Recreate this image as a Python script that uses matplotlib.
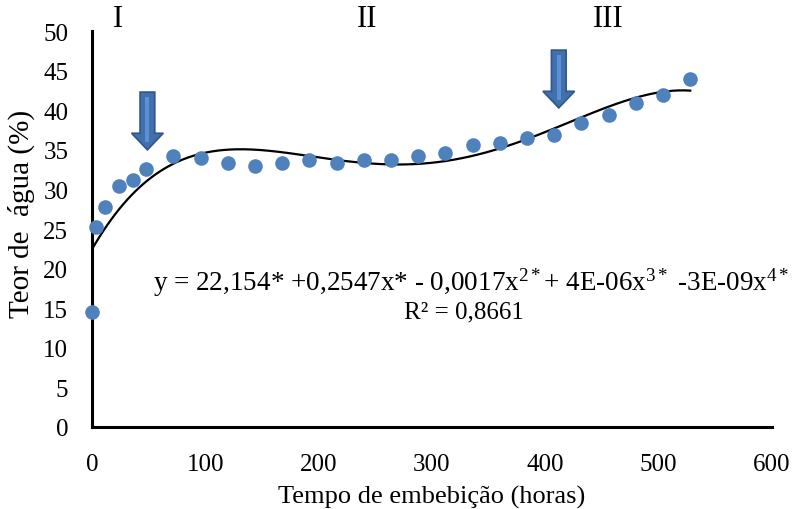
import numpy as np
import matplotlib
matplotlib.use('Agg')
import matplotlib.pyplot as plt
from matplotlib.patches import FancyArrow, Rectangle

plt.rcParams['font.family'] = ['Liberation Serif', 'DejaVu Serif']
plt.rcParams['mathtext.fontset'] = 'custom'
plt.rcParams['mathtext.rm'] = 'Liberation Serif'
plt.rcParams['mathtext.it'] = 'Liberation Serif:italic'

# tempo de embebição (horas) e teor de água (%)
horas = [0, 4, 12, 24, 36, 48, 72, 96, 120, 144, 168, 192, 216, 240, 264,
         288, 312, 336, 360, 384, 408, 432, 456, 480, 504, 528]
teor = [14.5, 25.3, 27.8, 30.4, 31.2, 32.6, 34.2, 34.0, 33.3, 33.0, 33.3, 33.7,
        33.3, 33.7, 33.7, 34.2, 34.6, 35.6, 35.9, 36.5, 36.9, 38.4, 39.4, 40.9,
        41.9, 43.9]
fases = ['I', 'II', 'III']
fases_x = [23, 243, 456]
setas_x = [49, 412]          # arrows marking phase transitions
setas_topo = [42.3, 47.6]
setas_ponta = [35.0, 40.3]

x = np.array(horas, float); y = np.array(teor, float)
coef = np.polyfit(x, y, 4)
xs = np.linspace(0, x.max(), 300)

fig = plt.figure(figsize=(7.99, 5.10), dpi=100)
ax = fig.add_axes([0.115, 0.161, 0.851, 0.776])
ax.plot(xs, np.polyval(coef, xs), color='black', lw=1.6, zorder=2)
ax.plot(x, y, 'o', color='#4f81bd', ms=10.5, mec='none', clip_on=False, zorder=3)

for xa, top, tip in zip(setas_x, setas_topo, setas_ponta):
    ax.add_patch(FancyArrow(xa, top, 0, tip - top, width=13, head_width=28,
                            head_length=2.1, length_includes_head=True,
                            facecolor='#4170ad', edgecolor='#30568c', lw=1.2, zorder=4))
    ax.add_patch(Rectangle((xa - 1.8, tip + 1.0), 3.6, top - tip - 1.6,
                           facecolor='#5b8fd6', edgecolor='none', zorder=5))

for f, fx in zip(fases, fases_x):
    ax.text(fx, 51.6, f, fontsize=22, ha='center', va='center', clip_on=False)

ax.text(335, 18.3, r'y = 22,154* +0,2547x* - 0,0017x$^{\mathrm{2*}}$+ 4E-06x$^{\mathrm{3*}}$ -3E-09x$^{\mathrm{4*}}$',
        fontsize=19.5, ha='center', va='center')
ax.text(328, 14.6, 'R² = 0,8661', fontsize=18, ha='center', va='center')

ax.set_xlim(0, 600); ax.set_ylim(0, 50)
ax.set_xticks(range(0, 601, 100)); ax.set_yticks(range(0, 51, 5))
ax.tick_params(length=0, labelsize=18)
ax.tick_params(axis='x', pad=19); ax.tick_params(axis='y', pad=17)
for s in ['top', 'right']:
    ax.spines[s].set_visible(False)
for s in ['left', 'bottom']:
    ax.spines[s].set_linewidth(2.2)
ax.set_xlabel('Tempo de embebição (horas)', fontsize=19, labelpad=7)
ax.set_ylabel('Teor de  água (%)', fontsize=21)
ax.yaxis.set_label_coords(-0.084, 0.54)

fig.savefig('out.png', dpi=100)
